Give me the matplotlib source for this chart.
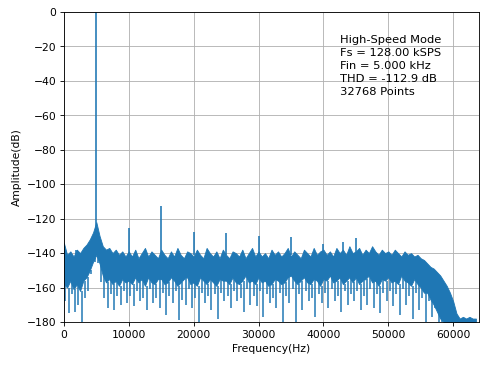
import numpy as np
import matplotlib
matplotlib.use('Agg')
import matplotlib.pyplot as plt

# FFT spectrum, one bin per 500 Hz:
# top of the noise band, bottom of its solid part, and the deeper dips 250 Hz later
band_top_db = [
    -134, -141, -139, -142, -138, -140, -137, -135, -132, -128,
    -122, -130, -136, -138, -137, -140, -138, -141, -139, -142,
    -139, -142, -138, -143, -140, -137, -142, -139, -141, -143,
    -138, -141, -143, -139, -142, -137, -141, -143, -139, -140,
    -142, -138, -141, -143, -137, -140, -142, -139, -143, -138,
    -141, -143, -139, -140, -142, -138, -143, -140, -137, -142,
    -139, -142, -140, -143, -138, -141, -139, -142, -140, -137,
    -142, -139, -141, -143, -138, -140, -142, -137, -141, -139,
    -138, -141, -139, -142, -137, -140, -138, -141, -136, -140,
    -139, -137, -141, -138, -140, -136, -139, -141, -138, -140,
    -139, -141, -138, -140, -142, -139, -141, -140, -142, -141,
    -143, -144, -146, -148, -149, -151, -153, -156, -159, -163,
    -168, -175, -178, -177, -178, -177, -178, -178,
]
band_core_db = [
    -158, -160, -156, -161, -158, -162, -156, -154, -150, -145,
    -141, -146, -153, -157, -155, -158, -156, -159, -155, -157,
    -156, -158, -154, -157, -155, -159, -154, -157, -158, -155,
    -155, -158, -157, -154, -156, -159, -157, -155, -154, -158,
    -157, -159, -154, -156, -158, -155, -157, -159, -155, -156,
    -156, -158, -154, -157, -158, -156, -153, -157, -156, -158,
    -154, -157, -156, -159, -158, -155, -156, -158, -157, -154,
    -153, -156, -158, -156, -154, -157, -158, -155, -156, -159,
    -155, -156, -153, -157, -156, -154, -158, -156, -154, -157,
    -154, -158, -156, -155, -153, -157, -156, -159, -155, -156,
    -154, -157, -156, -158, -153, -156, -157, -159, -155, -158,
    -160, -163, -163, -167, -170, -174, -178, -180, -180, -180,
    -180, -180, -180, -180, -180, -180, -180, -180,
]
dip_db = [
    -168, -175, -164, -174, -170, -180, -166, -162, -152, -143,
    -146, -157, -166, -172, -164, -173, -165, -170, -162, -169,
    -165, -171, -162, -168, -166, -173, -161, -169, -166, -172,
    -163, -176, -165, -169, -162, -179, -167, -170, -161, -172,
    -166, -180, -163, -169, -165, -173, -164, -178, -163, -168,
    -165, -172, -162, -168, -166, -174, -161, -170, -165, -171,
    -162, -177, -164, -169, -166, -172, -163, -180, -165, -169,
    -161, -180, -164, -173, -162, -168, -166, -177, -164, -169,
    -163, -172, -161, -168, -165, -174, -162, -170, -164, -168,
    -162, -173, -165, -170, -161, -172, -164, -175, -163, -168,
    -162, -171, -164, -176, -161, -170, -165, -178, -163, -173,
    -166, -180, -168, -177, -172, -180, -180, -180, -180, -180,
    -180, -180, -180, -180, -180, -180, -180, -180,
]

# fundamental and spurs (Hz, dB), standing on the noise floor
noise_floor_db = -141
spur_hz = [1800, 5000, 10000, 15000, 20000, 25000, 30000, 35000, 40000, 43000, 45000]
spur_db = [-138, 0, -125.4, -112.8, -127.7, -128.3, -130, -130.5, -134.5, -133.5, -131]

fs = 128000
n_points = 32768

bin_hz = np.arange(len(band_top_db)) * 500.0
dip_hz = bin_hz + 250.0

fig = plt.figure(figsize=(6.4, 4.8), dpi=495 / 6.4)
ax = fig.add_subplot(111)
fig.subplots_adjust(left=0.129, right=0.968, bottom=0.132, top=0.967)

blue = '#1f77b4'
ax.fill_between(bin_hz, band_core_db, band_top_db, color=blue, linewidth=0.8)
ax.vlines(dip_hz, band_core_db, dip_db, color=blue, linewidth=1.4)
ax.vlines(spur_hz, noise_floor_db, spur_db, color=blue, linewidth=1.5)

ax.set_xlim(0, fs / 2)
ax.set_ylim(-180, 0)
ax.grid()
ax.set_axisbelow(True)
ax.set_xlabel('Frequency(Hz)')
ax.set_ylabel('Amplitude(dB)')

info = ('High-Speed Mode\n'
        'Fs = 128.00 kSPS\n'
        'Fin = 5.000 kHz\n'
        'THD = -112.9 dB\n'
        '{0} Points'.format(n_points))
ax.text(42600, -13, info, va='top', ha='left', fontsize=10.7, linespacing=1.4)

fig.savefig('out.png')
plt.close()
